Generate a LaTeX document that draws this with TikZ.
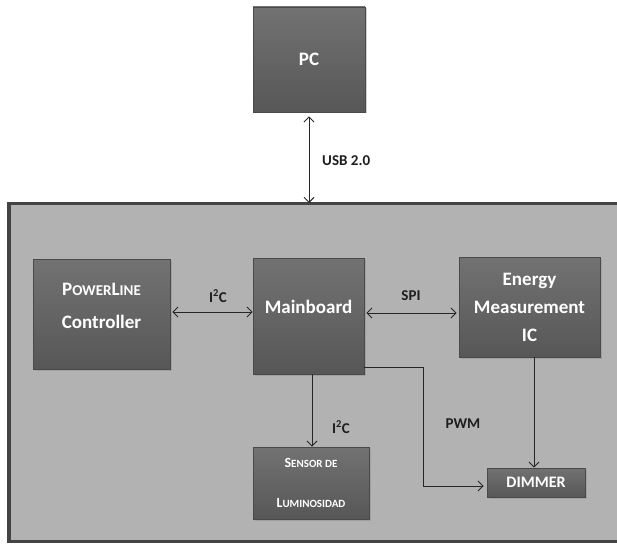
\documentclass[tikz,border=0pt]{standalone}
\usepackage{fontspec}
\setmainfont{Carlito}
\usetikzlibrary{shadows,arrows.meta}
\definecolor{outerfill}{HTML}{B2B2B2}
\definecolor{outerline}{HTML}{444444}
\definecolor{boxtop}{HTML}{727272}
\definecolor{boxbot}{HTML}{575757}
\definecolor{boxedge}{HTML}{4A4A4A}
\definecolor{labelc}{HTML}{1E1E1E}
\newcommand{\liftup}[2]{\raisebox{#1}[\height][\depth]{#2}}
\tikzset{
  blockbox/.style={draw=boxedge, line width=0.8pt, top color=boxtop, bottom color=boxbot,
    text=white, font=\bfseries, align=center, inner sep=0pt,
    drop shadow={opacity=0.35, shadow xshift=1.5pt, shadow yshift=-1.5pt}},
  conn/.style={draw=black!85, line width=0.9pt, {Straight Barb[length=5pt,width=10pt]}-{Straight Barb[length=5pt,width=10pt]}},
  oneway/.style={draw=black!85, line width=0.9pt, -{Straight Barb[length=5pt,width=10pt]}},
  lbl/.style={text=labelc, font=\bfseries\fontsize{15}{17}\selectfont, inner sep=0pt}
}
\begin{document}
\begin{tikzpicture}[x=1pt,y=-1pt]
\useasboundingbox (0,0) rectangle (617,545);
\begin{scope}
\clip (0,0) rectangle (617,545);
\node[fill=white, inner sep=0pt, minimum width=617pt, minimum height=545pt] (bg) at (308.5,272.5) {};
\draw[fill=outerfill, draw=outerline, line width=3.5pt] (9,203.5) rectangle (630,541.5);
\end{scope}
\coordinate (top) at (309,203);
% blocks
\node[blockbox, minimum width=112pt, minimum height=105pt, font=\bfseries\fontsize{19}{22}\selectfont] (pc) at (309,59.5) {PC};
\node[blockbox, minimum width=137pt, minimum height=110pt, font=\bfseries\fontsize{19}{33}\selectfont] (plc) at (101.5,314) {\liftup{8pt}{P{\fontsize{15}{15}\selectfont OWER}L{\fontsize{15}{15}\selectfont INE}}\\\liftup{8pt}{Controller}};
\node[blockbox, minimum width=111pt, minimum height=116pt, font=\bfseries\fontsize{19}{22}\selectfont] (mb) at (308.5,316) {\liftup{9pt}{Mainboard}};
\node[blockbox, minimum width=141pt, minimum height=100pt, font=\bfseries\fontsize{19}{28}\selectfont] (emi) at (529.5,307) {Energy\\Measurement\\IC};
\node[blockbox, minimum width=116pt, minimum height=72pt, font=\bfseries\fontsize{14}{40}\selectfont] (sens) at (311,483) {S{\fontsize{11}{11}\selectfont ENSOR DE}\\L{\fontsize{11}{11}\selectfont UMINOSIDAD}};
\node[blockbox, minimum width=98pt, minimum height=29pt, font=\bfseries\fontsize{16}{18}\selectfont] (dim) at (536,482.5) {DIMMER};
% connectors
\draw[conn] (pc.south) ++(0,4) coordinate (pcs) (pcs) -- (top);
\draw[conn] (plc.east |- 0,312) ++(2,0) coordinate (a1) (a1) -- (mb.west |- a1);
\draw[conn] (mb.east |- 0,313) ++(2,0) coordinate (a2) (a2) -- ([xshift=-2pt]emi.west |- a2);
\draw[oneway] (mb.south -| 312,0) coordinate (a3) (a3) -- (sens.north -| a3);
\coordinate (pw1) at (mb.east |- 0,367);
\draw[oneway] (pw1) -- (423,367) -- (423,486) -- ([xshift=-3pt]dim.west |- 0,486);
\draw[oneway] (emi.south -| 534,0) coordinate (a4) (a4) -- (dim.north -| a4);
% labels
\node[lbl, anchor=west] (lusb) at (322,161) {USB 2.0};
\node[lbl] (li1) at (218,296) {I\textsuperscript{2}C};
\node[lbl] (lspi) at (411,296) {SPI};
\node[lbl] (li2) at (341,427) {I\textsuperscript{2}C};
\node[lbl] (lpwm) at (463,424) {PWM};
\end{tikzpicture}
\end{document}
